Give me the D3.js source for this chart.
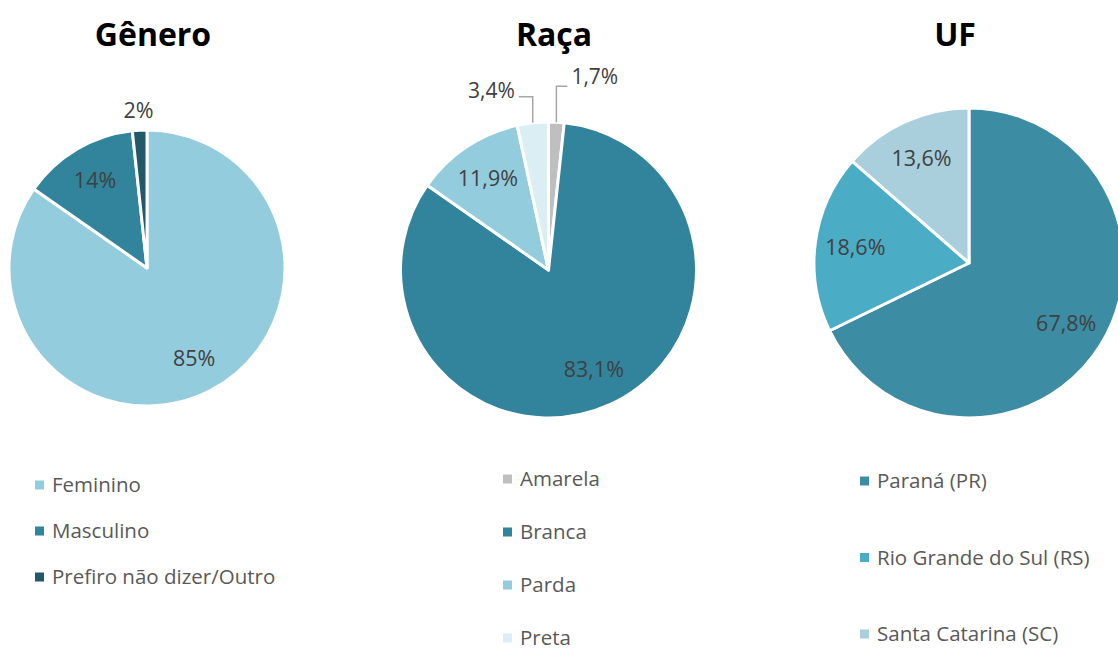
<!DOCTYPE html>
<html>
<head>
<meta charset="utf-8">
<script src="https://cdn.jsdelivr.net/npm/d3@7"></script>
<style>
  html, body { margin: 0; padding: 0; background: #fff; }
  svg { display: block; font-family: "Open Sans", "Noto Sans", sans-serif; }
</style>
</head>
<body>
<svg id="chart" width="1118" height="653"></svg>
<script>
// Gênero
const generoCats = ["Feminino", "Masculino", "Prefiro não dizer/Outro"];
const generoVals = [84.7, 13.6, 1.7];
const generoLabels = ["85%", "14%", "2%"];
const generoColors = ["#93cddd", "#31849b", "#215968"];

// Raça
const racaCats = ["Amarela", "Branca", "Parda", "Preta"];
const racaVals = [1.7, 83.1, 11.9, 3.4];
const racaLabels = ["1,7%", "83,1%", "11,9%", "3,4%"];
const racaColors = ["#bfbfbf", "#31849b", "#93cddd", "#daeef3"];

// UF
const ufCats = ["Paraná (PR)", "Rio Grande do Sul (RS)", "Santa Catarina (SC)"];
const ufVals = [67.8, 18.6, 13.6];
const ufLabels = ["67,8%", "18,6%", "13,6%"];
const ufColors = ["#3c8ca3", "#4bacc6", "#a9cfdc"];

const svg = d3.select("#chart");

const charts = [
  { title: "Gênero", titleX: 153, cx: 147, cy: 268, r: 138,
    cats: generoCats, vals: generoVals, labels: generoLabels, colors: generoColors,
    outside: { 2: "plain" }, legX: 35, legY: 485, legStep: 46 },
  { title: "Raça", titleX: 554, cx: 548.5, cy: 270, r: 148,
    cats: racaCats, vals: racaVals, labels: racaLabels, colors: racaColors,
    outside: { 0: "right", 3: "left" }, legX: 503, legY: 479, legStep: 53 },
  { title: "UF", titleX: 955, cx: 969, cy: 263, r: 155,
    cats: ufCats, vals: ufVals, labels: ufLabels, colors: ufColors,
    outside: {}, legX: 860, legY: 481, legStep: 76.5 }
];

charts.forEach(c => {
  // title
  svg.append("text")
    .attr("x", c.titleX).attr("y", 46)
    .attr("text-anchor", "middle")
    .attr("font-size", 32).attr("font-weight", 700)
    .attr("fill", "#000")
    .text(c.title);

  const pie = d3.pie().sort(null).value(d => d.v);
  const arcs = pie(c.vals.map((v, i) => ({ v, i })));
  const arc = d3.arc().innerRadius(0).outerRadius(c.r);
  const labelArc = d3.arc().innerRadius(c.r * 0.74).outerRadius(c.r * 0.74);

  const g = svg.append("g").attr("transform", `translate(${c.cx},${c.cy})`);

  g.selectAll("path")
    .data(arcs)
    .join("path")
    .attr("d", arc)
    .attr("fill", d => c.colors[d.data.i])
    .attr("stroke", "#fff")
    .attr("stroke-width", 3)
    .attr("stroke-linejoin", "round");

  arcs.forEach(d => {
    const i = d.data.i;
    const mode = c.outside[i];
    const mid = (d.startAngle + d.endAngle) / 2;
    if (!mode) {
      const [x, y] = labelArc.centroid(d);
      g.append("text")
        .attr("x", x).attr("y", y)
        .attr("text-anchor", "middle").attr("dy", "0.35em")
        .attr("font-size", 21.5).attr("fill", "#404040")
        .text(c.labels[i]);
    } else if (mode === "plain") {
      const R = c.r + 20;
      g.append("text")
        .attr("x", Math.sin(mid) * R).attr("y", -Math.cos(mid) * R)
        .attr("text-anchor", "middle").attr("dy", "0.35em")
        .attr("font-size", 21.5).attr("fill", "#404040")
        .text(c.labels[i]);
    } else {
      // leader line: up from the slice edge, then sideways
      const x0 = Math.sin(mid) * c.r, y0 = -Math.cos(mid) * c.r;
      const rise = mode === "right" ? 36 : 26;
      const y1 = y0 - rise;
      const x2 = mode === "right" ? x0 + 11 : x0 - 14;
      g.append("polyline")
        .attr("points", [[x0, y0], [x0, y1], [x2, y1]].map(p => p.join(",")).join(" "))
        .attr("fill", "none").attr("stroke", "#a6a6a6").attr("stroke-width", 1.5);
      g.append("text")
        .attr("x", mode === "right" ? x2 + 4 : x2 - 4)
        .attr("y", mode === "right" ? y1 - 2 : y1 + 1)
        .attr("text-anchor", mode === "right" ? "start" : "end")
        .attr("font-size", 21).attr("fill", "#404040")
        .text(c.labels[i]);
    }
  });

  // legend
  const leg = svg.append("g");
  c.cats.forEach((name, i) => {
    const y = c.legY + i * c.legStep;
    leg.append("rect")
      .attr("x", c.legX).attr("y", y - 4.5)
      .attr("width", 9).attr("height", 9)
      .attr("fill", c.colors[i]);
    leg.append("text")
      .attr("x", c.legX + 17).attr("y", y)
      .attr("dy", "0.35em")
      .attr("font-size", 20.5).attr("fill", "#595959")
      .text(name);
  });
});
</script>
</body>
</html>
